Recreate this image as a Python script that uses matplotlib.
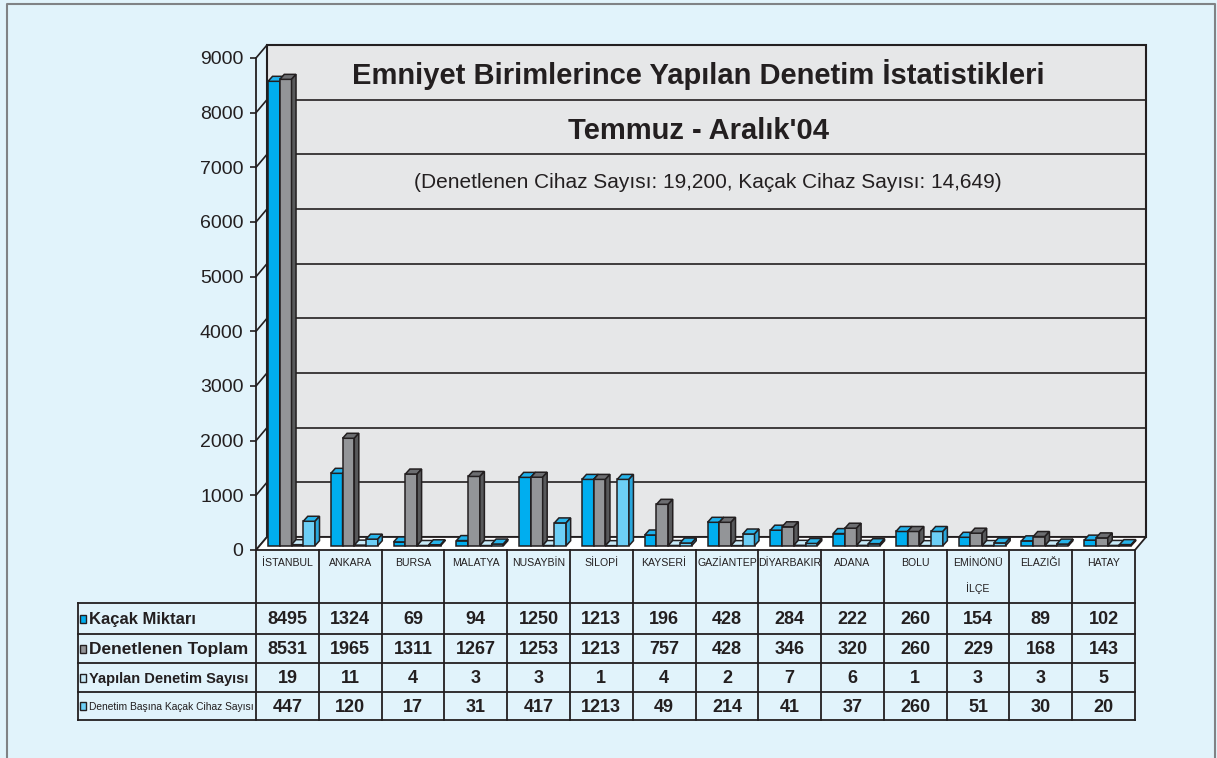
import matplotlib.pyplot as plt
from matplotlib import font_manager as fm
from matplotlib.patches import Polygon, Rectangle
from matplotlib.lines import Line2D

# data
cities = ["İSTANBUL", "ANKARA", "BURSA", "MALATYA", "NUSAYBİN", "SİLOPİ", "KAYSERİ",
          "GAZİANTEP", "DİYARBAKIR", "ADANA", "BOLU", "EMİNÖNÜ\nİLÇE", "ELAZIĞI", "HATAY"]
kacak = [8495, 1324, 69, 94, 1250, 1213, 196, 428, 284, 222, 260, 154, 89, 102]
denetlenen = [8531, 1965, 1311, 1267, 1253, 1213, 757, 428, 346, 320, 260, 229, 168, 143]
denetim_sayisi = [19, 11, 4, 3, 3, 1, 4, 2, 7, 6, 1, 3, 3, 5]
basina = [447, 120, 17, 31, 417, 1213, 49, 214, 41, 37, 260, 51, 30, 20]
series_names = ["Kaçak Miktarı", "Denetlenen Toplam", "Yapılan Denetim Sayısı",
                "Denetim Başına Kaçak Cihaz Sayısı"]
yticks = [0, 1000, 2000, 3000, 4000, 5000, 6000, 7000, 8000, 9000]

title1 = "Emniyet Birimlerince Yapılan Denetim İstatistikleri"
title2 = "Temmuz - Aralık'04"
subtitle = "(Denetlenen Cihaz Sayısı: 19,200, Kaçak Cihaz Sayısı: 14,649)"

# colours: front, top, side
front_c = ["#00aeef", "#939598", "#c8eaf8", "#6dcff6"]
top_c = ["#1fb1ec", "#6d6e71", "#c8eaf8", "#27b4ea"]
side_c = ["#0a8cc4", "#58595b", "#a9dcf2", "#2aa7dc"]
ink = "#231f20"
bg = "#e1f3fb"

W, H = 1217, 758
plt.rcParams['font.family'] = ['Liberation Sans', 'DejaVu Sans']

# condensed face if there is one, otherwise shrink the regular one
installed = {f.name for f in fm.fontManager.ttflist}
if 'Liberation Sans Narrow' in installed:
    narrow = ['Liberation Sans Narrow', 'Liberation Sans']
    k = 1.0
else:
    narrow = ['Liberation Sans', 'DejaVu Sans']
    k = 0.8

fig = plt.figure(figsize=(W / 100, H / 100), dpi=100)
fig.patch.set_facecolor(bg)

# main axes: front of the 3D box
x0, x1, y0, y1 = 256, 1135, 550, 58
ax = fig.add_axes([x0 / W, (H - y0) / H, (x1 - x0) / W, (y0 - y1) / H])
n = len(cities)
ax.set_xlim(0, n)
ax.set_ylim(0, 9000)
ax.patch.set_alpha(0)
for s in ["top", "right", "bottom"]:
    ax.spines[s].set_visible(False)
ax.spines["left"].set_color(ink)
ax.spines["left"].set_linewidth(1.3)
ax.set_xticks([])
ax.set_yticks(yticks)
ax.set_yticklabels([str(t) for t in yticks], fontsize=14, color=ink)
ax.tick_params(axis="y", length=4, width=1.2, color=ink, pad=5)

px_x = n / (x1 - x0)
px_y = 9000 / (y0 - y1)
DX, DY = 11 * px_x, 13 * px_y

# back wall, grid and side connectors
ax.add_patch(Rectangle((DX, DY), n, 9000, facecolor="#e6e7e8", edgecolor=ink,
                       lw=1.5, clip_on=False, zorder=0))
for t in yticks:
    ax.add_line(Line2D([0, DX], [t, t + DY], color=ink, lw=1.2, clip_on=False, zorder=1))
    if 0 < t < 9000:
        ax.add_line(Line2D([DX, n + DX], [t + DY, t + DY], color=ink, lw=1.2,
                           clip_on=False, zorder=1))

# floor
ax.add_patch(Polygon([(0, 0), (n, 0), (n + DX, DY), (DX, DY)], closed=True,
                     facecolor="white", edgecolor=ink, lw=1.3, clip_on=False, zorder=2))

# bars
series = [kacak, denetlenen, denetim_sayisi, basina]
bw = 0.187
start = 0.134
f = 0.33
bdx, bdy = 4.5 * px_x, 5 * px_y
for i in range(n):
    for s, vals in enumerate(series):
        xl = i + start + s * bw + f * DX
        yb = f * DY
        v = vals[i]
        ax.bar(xl, v, width=bw, bottom=yb, align="edge", color=front_c[s],
               edgecolor=ink, lw=1.1, zorder=3, clip_on=False)
        yt = yb + v
        xr = xl + bw
        ax.add_patch(Polygon([(xl, yt), (xr, yt), (xr + bdx, yt + bdy), (xl + bdx, yt + bdy)],
                             closed=True, facecolor=top_c[s], edgecolor=ink, lw=1.1,
                             zorder=3, clip_on=False))
        ax.add_patch(Polygon([(xr, yb), (xr, yt), (xr + bdx, yt + bdy), (xr + bdx, yb + bdy)],
                             closed=True, facecolor=side_c[s], edgecolor=ink, lw=1.1,
                             zorder=3, clip_on=False))

# pixel overlay for frame, titles and table (drawn above the chart)
pix = fig.add_axes([0, 0, 1, 1])
pix.set_zorder(5)
pix.set_xlim(0, W)
pix.set_ylim(H, 0)
pix.axis("off")
pix.patch.set_alpha(0)

pix.plot([7, 7, 1215, 1215], [H + 5, 4, 4, H + 5], color="#808285", lw=1.5)

pix.text(698, 75, title1, ha="center", va="center", fontsize=21, fontweight="bold", color=ink)
pix.text(698, 131, title2, ha="center", va="center", fontsize=21, fontweight="bold", color=ink)
pix.text(708, 183, subtitle, ha="center", va="center", fontsize=15, color=ink)

# data table
cw = (x1 - x0) / n
rows = [603, 634, 663, 692, 720]
lx = 78
for y in rows:
    pix.plot([lx, x1], [y, y], color=ink, lw=1.3)
pix.plot([lx, lx], [rows[0], rows[-1]], color=ink, lw=1.3)
for i in range(n + 1):
    pix.plot([x0 + i * cw] * 2, [y0, rows[-1]], color=ink, lw=1.3)

for i, c in enumerate(cities):
    pix.text(x0 + (i + 0.5) * cw, 558, c, ha="center", va="top", fontsize=9.5 * k,
             family=narrow, color=ink, linespacing=2.4)

label_sizes = [12, 12.5, 10.5, 9.2 * k]
label_weights = ["bold", "bold", "bold", "normal"]
label_family = [plt.rcParams['font.family'], plt.rcParams['font.family'],
                plt.rcParams['font.family'], narrow]
for r, (name, vals) in enumerate(zip(series_names, series)):
    yc = (rows[r] + rows[r + 1]) / 2
    pix.add_patch(Rectangle((80, yc - 4), 6, 8, facecolor=front_c[r], edgecolor=ink, lw=1))
    pix.text(89, yc + 1, name, ha="left", va="center", fontsize=label_sizes[r],
             fontweight=label_weights[r], family=label_family[r], color=ink)
    for i, v in enumerate(vals):
        pix.text(x0 + (i + 0.5) * cw, yc + 1, str(v), ha="center", va="center",
                 fontsize=13, fontweight="bold", family=narrow, color=ink)

fig.savefig("out.png", dpi=100, facecolor=bg)
